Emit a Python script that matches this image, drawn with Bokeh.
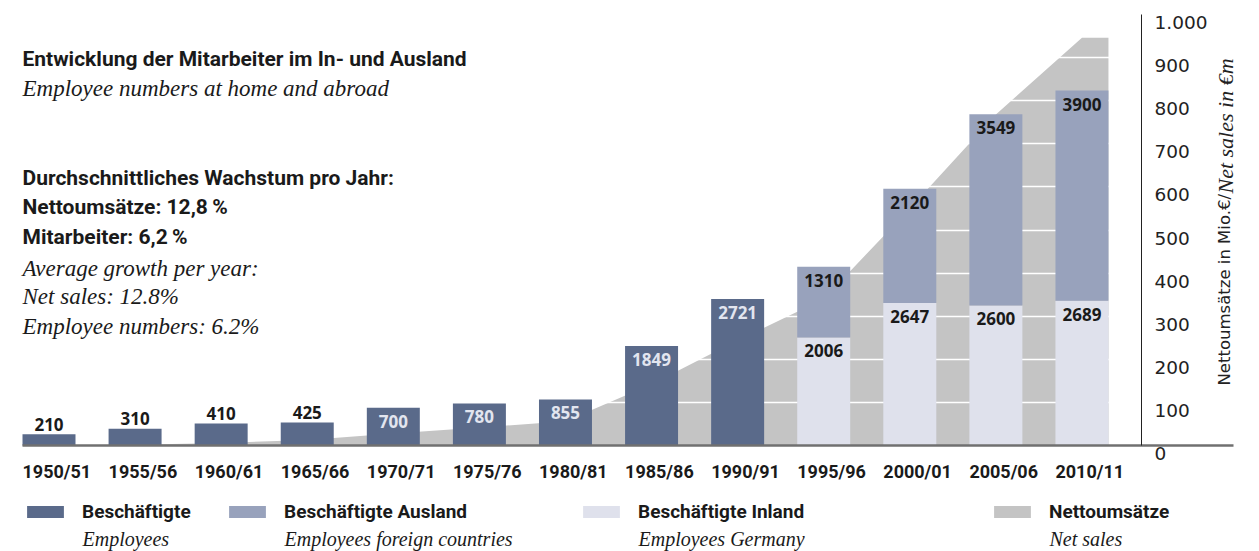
import math
from bokeh.plotting import figure
from bokeh.models import Range1d, FixedTicker, Label, Legend, LegendItem
from bokeh.core.properties import value
from bokeh.embed import file_html
from bokeh.resources import INLINE

# ---------------- data ----------------
periods = ["1950/51", "1955/56", "1960/61", "1965/66", "1970/71", "1975/76", "1980/81",
           "1985/86", "1990/91", "1995/96", "2000/01", "2005/06", "2010/11"]
# employees (total) 1950/51 - 1990/91
employees = [210, 310, 410, 425, 700, 780, 855, 1849, 2721]
# 1995/96 - 2010/11 split into Germany / foreign countries
employees_germany = [2006, 2647, 2600, 2689]
employees_foreign = [1310, 2120, 3549, 3900]
# net sales in EUR m (read from the grey area)
net_sales = [0.5, 2, 6, 13, 28, 42, 56, 142, 244, 340, 550, 768, 946]
sales_ticks = [0, 100, 200, 300, 400, 500, 600, 700, 800, 900, 1000]
sales_tick_labels = ["0", "100", "200", "300", "400", "500", "600", "700", "800", "900", "1.000"]

# ---------------- layout / styling constants (picture pixels) ----------------
W, H = 1259, 551                      # canvas size
X0_PX, PX_PER_BAR = 48.5, 86.08       # x of first bar centre, bar pitch
BASE_PX, PX_PER_UNIT = 445, 0.431     # y of baseline, px per EUR m
EMP_PER_UNIT = 8                      # employees per EUR m on the shared scale
BAR_W = 0.6156
AXIS_X = (1141 - X0_PX) / PX_PER_BAR  # position of the sales scale line
BASE_END = (1233 - X0_PX) / PX_PER_BAR

C_EMP = "#5a6a8a"
C_FOR = "#98a2bc"
C_GER = "#dfe1ec"
C_SALES = "#c4c4c4"
C_TXT = "#1a1a1a"
BOLD = "Roboto"
SERIF = "Liberation Serif"
NUMF = "Open Sans"

n_old = len(employees)
x_old = list(range(n_old))
x_new = list(range(n_old, n_old + len(employees_germany)))
totals_new = [g + f for g, f in zip(employees_germany, employees_foreign)]

x0 = -X0_PX / PX_PER_BAR
x1 = (W - X0_PX) / PX_PER_BAR
y0 = -(H - BASE_PX) / PX_PER_UNIT
y1 = BASE_PX / PX_PER_UNIT
p = figure(width=W, height=H, x_range=Range1d(x0, x1), y_range=Range1d(y0, y1),
           x_axis_location=None, y_axis_location=None,
           toolbar_location=None, output_backend="svg",
           min_border_left=0, min_border_right=0, min_border_top=0, min_border_bottom=0)
p.outline_line_color = None
p.background_fill_color = "white"
p.border_fill_color = "white"
p.extra_y_ranges = {"emp": Range1d(y0 * EMP_PER_UNIT, y1 * EMP_PER_UNIT)}

# net sales area (vertices at bar centres, flat to the outer bar edges)
xs = [-BAR_W / 2] + list(range(len(net_sales))) + [len(net_sales) - 1 + BAR_W / 2]
ys = [net_sales[0]] + net_sales + [net_sales[-1]]
r_sales = p.varea(x=xs, y1=0, y2=ys, fill_color=C_SALES, level="image")

# grid (white lines over the grey area, below the bars)
p.xgrid.visible = False
p.ygrid.ticker = FixedTicker(ticks=sales_ticks[1:-1])
p.ygrid.grid_line_color = "white"
p.ygrid.grid_line_width = 1.5

# bars
r_emp = p.vbar(x=x_old, bottom=0, top=employees, width=BAR_W, fill_color=C_EMP,
               line_color=None, y_range_name="emp")
r_ger = p.vbar(x=x_new, bottom=0, top=employees_germany, width=BAR_W, fill_color=C_GER,
               line_color=None, y_range_name="emp")
r_for = p.vbar(x=x_new, bottom=employees_germany, top=totals_new, width=BAR_W,
               fill_color=C_FOR, line_color=None, y_range_name="emp")

# baseline and sales scale line
p.segment(x0=[-BAR_W / 2], y0=[0], x1=[BASE_END], y1=[0], line_color="#707070", line_width=2.5)
p.segment(x0=[AXIS_X], y0=[sales_ticks[0]], x1=[AXIS_X], y1=[sales_ticks[-1]],
          line_color="#222222", line_width=1)

# bar value labels (y_offset = distance of the text centre from the bar top)
txt_kw = dict(text_font=value(NUMF), text_font_style="bold", text_font_size="17px",
              text_align="center", text_baseline="middle", y_range_name="emp")
above = [i for i, v in enumerate(employees) if v < 600]
inside = [i for i, v in enumerate(employees) if v >= 600]
p.text(x=above, y=[employees[i] for i in above], text=[str(employees[i]) for i in above],
       y_offset=-10, text_color=C_TXT, **txt_kw)
p.text(x=inside, y=[employees[i] for i in inside], text=[str(employees[i]) for i in inside],
       y_offset=13.5, text_color="#e2e5ef", **txt_kw)
p.text(x=x_new, y=employees_germany, text=[str(v) for v in employees_germany],
       y_offset=13.5, text_color=C_TXT, **txt_kw)
p.text(x=x_new, y=totals_new, text=[str(v) for v in employees_foreign],
       y_offset=13.5, text_color=C_TXT, **txt_kw)

# period labels (left-aligned with the bars)
p.text(x=[i - BAR_W / 2 for i in range(len(periods))], y=[0] * len(periods), text=periods,
       y_offset=26, text_font=value(BOLD), text_font_style="bold", text_font_size="18px",
       text_align="left", text_baseline="middle", text_color=C_TXT)

# sales scale labels
p.text(x=[AXIS_X] * len(sales_ticks), y=sales_ticks, text=sales_tick_labels,
       x_offset=13, y_offset=8, text_font=value("DejaVu Sans"), text_font_size="18.5px",
       text_align="left", text_baseline="middle", text_color="#222222")


def lab(text, px, py, font, style, size, **kw):
    """Label whose left end / vertical centre sits at picture position (px, py)."""
    p.add_layout(Label(x=px, y=H - py, x_units="screen", y_units="screen",
                       text=text, text_font=font, text_font_style=style, text_font_size=size,
                       text_color=kw.pop("color", C_TXT), text_baseline="middle",
                       text_align="left", **kw))


lab("Entwicklung der Mitarbeiter im In- und Ausland", 22, 58, BOLD, "bold", "21px")
lab("Employee numbers at home and abroad", 22, 87.5, SERIF, "italic", "23px")
lab("Durchschnittliches Wachstum pro Jahr:", 22, 177, BOLD, "bold", "21px")
lab("Nettoumsätze: 12,8\u2009%", 22, 206, BOLD, "bold", "21px")
lab("Mitarbeiter: 6,2\u2009%", 22, 236, BOLD, "bold", "21px")
lab("Average growth per year:", 22, 267.5, SERIF, "italic", "23px")
lab("Net sales: 12.8%", 22, 295.5, SERIF, "italic", "23px")
lab("Employee numbers: 6.2%", 22, 325.5, SERIF, "italic", "23px")

# sales scale title (two fonts, reading upwards)
lab("Nettoumsätze in Mio.€/", 1224, 385, "DejaVu Sans", "normal", "16.5px",
    angle=math.pi / 2, color="#222222")
lab("Net sales in €m", 1225, 193, SERIF, "italic", "22px",
    angle=math.pi / 2, color="#222222")

# legend
legend_items = [("Beschäftigte", r_emp, 22, "Employees"),
                ("Beschäftigte Ausland", r_for, 224, "Employees foreign countries"),
                ("Beschäftigte Inland", r_ger, 578, "Employees Germany"),
                ("Nettoumsätze", r_sales, 989, "Net sales")]
for de, rend, lx, en in legend_items:
    lg = Legend(items=[LegendItem(label=de, renderers=[rend])],
                location=(lx, H - 523),
                orientation="horizontal", glyph_width=46, glyph_height=15, label_standoff=14,
                padding=0, margin=0, spacing=0, border_line_color=None,
                background_fill_alpha=0, label_text_font=BOLD, label_text_font_style="bold",
                label_text_font_size="19px", label_text_color=C_TXT, label_height=15)
    p.add_layout(lg, "center")
    lab(en, lx + 60, 538, SERIF, "italic", "20px")

open("out.html", "w").write(file_html(p, INLINE))
